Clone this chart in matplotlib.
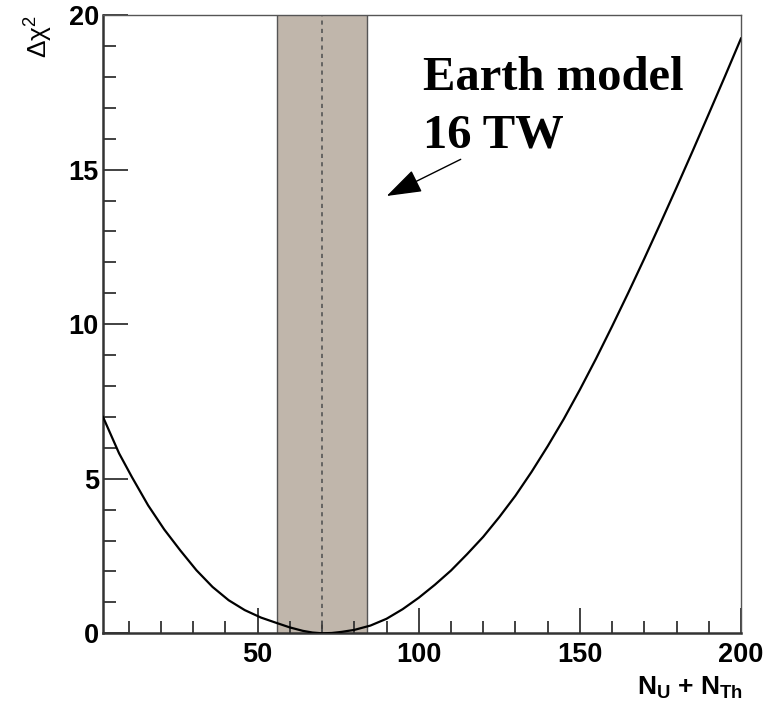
"""Delta chi-square scan versus N_U + N_Th with the Earth-model band."""

import matplotlib

matplotlib.use("Agg")
import matplotlib.pyplot as plt  # noqa: E402
from matplotlib.ticker import MultipleLocator  # noqa: E402

plt.rcParams["mathtext.fontset"] = "custom"
plt.rcParams["mathtext.rm"] = "Liberation Sans"
plt.rcParams["mathtext.it"] = "Liberation Sans:italic"
plt.rcParams["mathtext.bf"] = "Liberation Sans:bold"

# curve
n_events = [2, 7, 11, 16, 21, 26, 31, 36, 41, 46, 51, 56, 60, 64, 67, 70,
            73, 76, 80, 85, 90, 95, 100, 105, 110, 115, 120, 125, 130, 135,
            140, 145, 150, 155, 160, 165, 170, 175, 180, 185, 190, 195, 200]
delta_chi2 = [7.0, 5.82, 5.05, 4.14, 3.36, 2.68, 2.04, 1.50, 1.07, 0.75, 0.51,
              0.33, 0.19, 0.08, 0.025, 0.0, 0.01, 0.045, 0.11, 0.25, 0.47,
              0.78, 1.15, 1.57, 2.03, 2.56, 3.12, 3.76, 4.45, 5.22, 6.05,
              6.93, 7.88, 8.88, 9.93, 11.01, 12.12, 13.26, 14.42, 15.60,
              16.80, 18.01, 19.24]

model_center = 70
model_low, model_high = 56, 84

fig = plt.figure(figsize=(7.68, 7.05), dpi=100)
ax = fig.add_axes([0.1341, 0.1017, 0.8307, 0.8770])

ax.axvspan(model_low, model_high, facecolor="#c0b6ab", edgecolor="none", zorder=1)
ax.axvline(model_low, color="#555555", lw=1.0, zorder=2)
ax.axvline(model_high, color="#555555", lw=1.0, zorder=2)
ax.axvline(model_center, color="#555555", lw=1.2, ls=(0, (2.5, 2.5)), zorder=2)

ax.plot(n_events, delta_chi2, color="black", lw=1.6, zorder=3,
        solid_joinstyle="round")

ax.set_xlim(2, 200)
ax.set_ylim(0, 20)

ax.xaxis.set_major_locator(MultipleLocator(50))
ax.xaxis.set_minor_locator(MultipleLocator(10))
ax.yaxis.set_major_locator(MultipleLocator(5))
ax.yaxis.set_minor_locator(MultipleLocator(1))
ax.tick_params(which="both", direction="in", top=False, right=False,
               color="#333333", width=1.3)
ax.tick_params(which="major", length=18, labelsize=19.5)
ax.tick_params(axis="x", which="major", pad=6)
ax.tick_params(axis="y", which="major", pad=3)
ax.tick_params(which="minor", length=9)
for lab in ax.get_xticklabels() + ax.get_yticklabels():
    lab.set_fontweight("bold")
    lab.set_family("Liberation Sans")

for side in ("left", "bottom"):
    ax.spines[side].set_linewidth(1.8)
    ax.spines[side].set_color("#333333")
for side in ("top", "right"):
    ax.spines[side].set_linewidth(1.0)
    ax.spines[side].set_color("#555555")

fig.text(0.051, 0.979, "Δχ$^2$", rotation=90, ha="center", va="top",
         fontsize=19, family="Liberation Sans")
fig.text(0.967, 0.006, r"$\mathbf{N_U}$ + $\mathbf{N_{Th}}$", ha="right",
         va="bottom", fontsize=19, fontweight="bold", family="Liberation Sans")

ax.text(0.5016, 0.8787, "Earth model", transform=ax.transAxes,
        ha="left", va="baseline", fontsize=35, fontweight="bold",
        family="Liberation Serif")
ax.text(0.5016, 0.7865, "16 TW", transform=ax.transAxes,
        ha="left", va="baseline", fontsize=35, fontweight="bold",
        family="Liberation Serif")
ax.annotate("", xy=(0.4447, 0.7073), xytext=(0.5607, 0.7666),
            xycoords="axes fraction",
            arrowprops=dict(arrowstyle="-|>,head_length=2.2,head_width=0.75",
                            color="black", lw=1.0, shrinkA=0, shrinkB=0))

fig.savefig("out.png", dpi=100)
